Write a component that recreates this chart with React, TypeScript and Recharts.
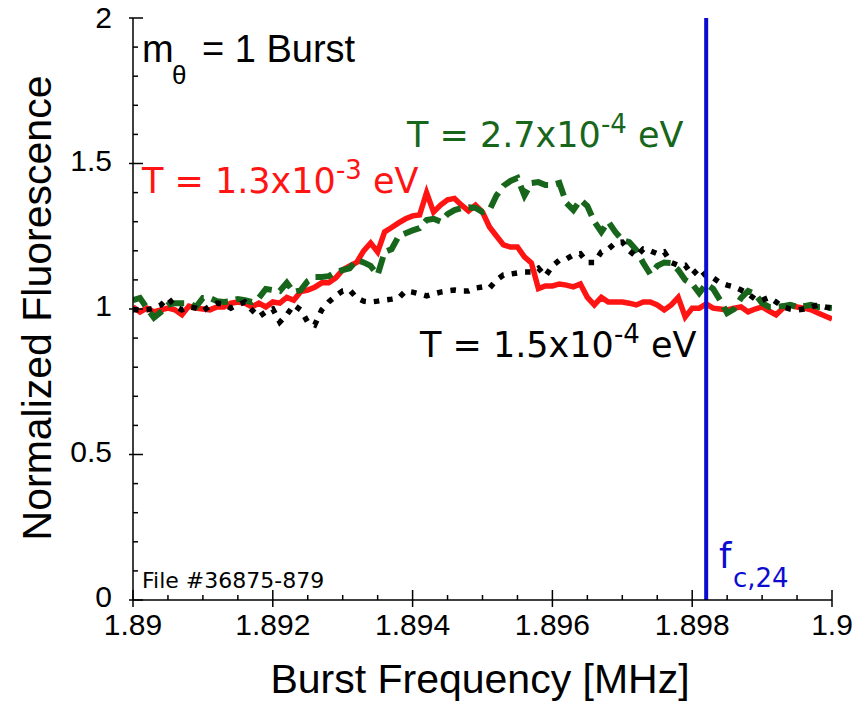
import { LineChart, Line, XAxis, YAxis, ReferenceLine } from 'recharts'

// normalized fluorescence vs burst frequency, one sample every 0.0001 MHz from 1.89
const freqStart = 1.89
const freqStep = 0.0001

const t13e3 = [
  1.007, 0.99, 1.003, 0.99, 0.997, 1.003, 0.997, 0.98, 1.01, 1.003,
  1.0, 0.997, 1.007, 1.007, 1.02, 1.024, 1.02, 1.007, 1.02, 1.007,
  1.024, 1.02, 1.04, 1.03, 1.06, 1.065, 1.075, 1.09, 1.09, 1.107,
  1.134, 1.148, 1.16, 1.2, 1.227, 1.196, 1.265, 1.28, 1.296, 1.31,
  1.32, 1.323, 1.4, 1.333, 1.357, 1.375, 1.38, 1.357, 1.337, 1.357,
  1.333, 1.282, 1.251, 1.22, 1.213, 1.213, 1.179, 1.158, 1.07, 1.079,
  1.079, 1.086, 1.082, 1.076, 1.086, 1.04, 1.014, 1.04, 1.024, 1.024,
  1.024, 1.02, 1.014, 1.024, 1.024, 1.014, 0.997, 1.014, 1.04, 0.973,
  1.003, 1.003, 1.017, 1.003, 1.0, 0.997, 1.003, 1.007, 0.99, 1.0,
  1.007, 0.993, 0.98, 1.003, 1.014, 1.007, 1.003, 0.997, 0.986, 0.976,
  0.966,
]

const t27e4 = [
  1.03, 1.038, 1.003, 0.97, 0.99, 1.014, 1.02, 1.02, 1.02, 1.007,
  1.038, 1.038, 1.027, 1.024, 1.027, 1.034, 1.03, 1.024, 1.038, 1.069,
  1.065, 1.062, 1.09, 1.058, 1.065, 1.096, 1.11, 1.11, 1.113, 1.127,
  1.134, 1.14, 1.168, 1.16, 1.148, 1.117, 1.196, 1.206, 1.25, 1.26,
  1.27, 1.278, 1.306, 1.31, 1.3, 1.326, 1.34, 1.347, 1.35, 1.347,
  1.333, 1.34, 1.39, 1.423, 1.44, 1.45, 1.39, 1.433, 1.436, 1.426,
  1.426, 1.433, 1.364, 1.34, 1.375, 1.354, 1.3, 1.265, 1.3, 1.265,
  1.237, 1.23, 1.203, 1.158, 1.12, 1.148, 1.16, 1.158, 1.134, 1.1,
  1.086, 1.055, 1.086, 1.069, 1.03, 0.986, 1.0, 1.038, 1.062, 1.052,
  1.02, 1.007, 1.007, 1.01, 1.014, 1.007, 1.01, 1.014, 1.007, 1.007,
  1.003,
]

const t15e4 = [
  0.997, 0.997, 0.997, 1.003, 1.014, 1.038, 1.01, 0.997, 1.007, 1.003,
  0.993, 1.01, 1.02, 1.017, 1.003, 1.014, 1.024, 0.997, 0.973, 0.99,
  1.0, 0.955, 0.98, 1.014, 0.997, 0.955, 0.945, 0.997, 1.024, 1.045,
  1.062, 1.065, 1.038, 1.027, 1.024, 1.027, 1.031, 1.034, 1.038, 1.062,
  1.058, 1.052, 1.045, 1.052, 1.058, 1.062, 1.065, 1.062, 1.062, 1.072,
  1.076, 1.072, 1.1, 1.117, 1.12, 1.124, 1.127, 1.127, 1.14, 1.113,
  1.148, 1.168, 1.172, 1.186, 1.19, 1.16, 1.16, 1.196, 1.206, 1.227,
  1.23, 1.2, 1.18, 1.206, 1.2, 1.19, 1.196, 1.16, 1.15, 1.15,
  1.117, 1.14, 1.113, 1.107, 1.09, 1.082, 1.076, 1.065, 1.052, 1.034,
  1.03, 1.04, 1.024, 1.007, 1.0, 0.997, 1.0, 1.007, 1.014, 1.007,
  1.003,
]

const xMajorTicks = [1.89, 1.892, 1.894, 1.896, 1.898, 1.9]
const yMajorTicks = [0, 0.5, 1, 1.5, 2]
const fc24 = 1.8982

const subdivide = (major: number[], n: number) => {
  const out: number[] = []
  for (let i = 0; i < major.length - 1; i++) {
    for (let k = 0; k < n; k++) out.push(major[i] + (k * (major[i + 1] - major[i])) / n)
  }
  out.push(major[major.length - 1])
  return out
}
const xTicks = subdivide(xMajorTicks, 4)
const yTicks = subdivide(yMajorTicks, 5)

const data = t13e3.map((v, i) => ({
  f: +(freqStart + i * freqStep).toFixed(4),
  red: v,
  green: t27e4[i],
  black: t15e4[i],
}))

const isMajor = (v: number, majors: number[]) => majors.some((m) => Math.abs(m - v) < 1e-7)
const fmt = (v: number) => String(+v.toFixed(4))

const SANS = '"Liberation Sans", Arial, sans-serif'
const DEJA = '"DejaVu Sans", sans-serif'

function BottomTick({ x, y, payload }: any) {
  const major = isMajor(payload.value, xMajorTicks)
  return (
    <g>
      <line x1={x} x2={x} y1={major ? y - 10 : y - 5} y2={major ? y + 7 : y} stroke="#000" strokeWidth={1.5} />
      {major && (
        <text x={x} y={y + 35} textAnchor="middle" fontSize={30} fontFamily={SANS} fill="#000">
          {fmt(payload.value)}
        </text>
      )}
    </g>
  )
}

function TopTick({ x, y, payload }: any) {
  const major = isMajor(payload.value, xMajorTicks)
  return <line x1={x} x2={x} y1={major ? y - 10 : y} y2={major ? y + 8 : y + 5} stroke="#000" strokeWidth={1.5} />
}

function LeftTick({ x, y, payload }: any) {
  const major = isMajor(payload.value, yMajorTicks)
  return (
    <g>
      <line x1={major ? x - 4 : x} x2={major ? x + 10 : x + 5} y1={y} y2={y} stroke="#000" strokeWidth={1.5} />
      {major && (
        <text x={x - 21} y={Math.max(y + 7, 28)} textAnchor="end" fontSize={30} fontFamily={SANS} fill="#000">
          {fmt(payload.value)}
        </text>
      )}
    </g>
  )
}

function RightTick({ x, y, payload }: any) {
  const major = isMajor(payload.value, yMajorTicks)
  return <line x1={major ? x - 10 : x - 5} x2={x} y1={y} y2={y} stroke="#000" strokeWidth={1.5} />
}

function TempLabel({ x, y, color, mant, exp }: { x: number; y: number; color: string; mant: string; exp: string }) {
  return (
    <text x={x} y={y} fill={color} fontFamily={DEJA} fontSize={35}>
      {`T = ${mant}x10`}
      <tspan dy={-14} fontSize={26}>{exp}</tspan>
      <tspan dy={14} fontSize={35}>{' eV'}</tspan>
    </text>
  )
}

export default function App() {
  return (
    <div style={{ position: 'absolute', left: 0, top: 0, background: '#fff' }}>
      <LineChart width={859} height={706} data={data} margin={{ top: 18, right: 27, bottom: 0, left: 0 }}>
        <XAxis
          dataKey="f"
          type="number"
          domain={[1.89, 1.9]}
          allowDataOverflow
          ticks={xTicks}
          interval={0}
          height={106}
          tickSize={0}
          tickMargin={0}
          tickLine={false}
          tick={<BottomTick />}
          axisLine={{ stroke: '#000', strokeWidth: 1.5 }}
        />
        <XAxis
          xAxisId="top"
          orientation="top"
          type="number"
          domain={[1.89, 1.9]}
          allowDataOverflow
          ticks={xTicks}
          interval={0}
          height={0}
          tickSize={0}
          tickMargin={0}
          tickLine={false}
          tick={<TopTick />}
          axisLine={{ stroke: '#000', strokeWidth: 1.5 }}
        />
        <YAxis
          type="number"
          domain={[0, 2]}
          allowDataOverflow
          ticks={yTicks}
          interval={0}
          width={133}
          tickSize={0}
          tickMargin={0}
          tickLine={false}
          tick={<LeftTick />}
          axisLine={{ stroke: '#000', strokeWidth: 1.5 }}
        />
        <YAxis
          yAxisId="right"
          orientation="right"
          type="number"
          domain={[0, 2]}
          allowDataOverflow
          ticks={yTicks}
          interval={0}
          width={0}
          tickSize={0}
          tickMargin={0}
          tickLine={false}
          tick={<RightTick />}
          axisLine={{ stroke: '#000', strokeWidth: 1.5 }}
        />
        <Line dataKey="red" type="linear" stroke="#ff1414" strokeWidth={5.5} dot={false} isAnimationActive={false} />
        <Line
          dataKey="green"
          type="linear"
          stroke="#17661b"
          strokeWidth={6}
          strokeDasharray="17 8"
          dot={false}
          isAnimationActive={false}
        />
        <Line
          dataKey="black"
          type="linear"
          stroke="#000"
          strokeWidth={5.5}
          strokeDasharray="5.5 8"
          dot={false}
          isAnimationActive={false}
        />
        <ReferenceLine x={fc24} stroke="#0c0cd0" strokeWidth={4} />

        <text x={142} y={62} fontFamily={SANS} fontSize={38} fill="#000">
          m
          <tspan x={172} y={84} fontSize={26}>θ</tspan>
          <tspan x={202} y={62} fontSize={38}>= 1 Burst</tspan>
        </text>
        <TempLabel x={142} y={193} color="#ff1414" mant="1.3" exp="-3" />
        <TempLabel x={407} y={147} color="#17661b" mant="2.7" exp="-4" />
        <TempLabel x={420} y={357} color="#000" mant="1.5" exp="-4" />
        <text x={719} y={568} fontFamily={DEJA} fontSize={35} fill="#0c0cd0">
          f
          <tspan x={733} y={587} fontSize={26}>c,24</tspan>
        </text>
        <text x={142} y={588} fontFamily={DEJA} fontSize={22} fill="#000">
          File #36875-879
        </text>
        <text x={480} y={693} textAnchor="middle" fontFamily={SANS} fontSize={41} fill="#000">
          Burst Frequency [MHz]
        </text>
        <text
          x={51}
          y={308}
          transform="rotate(-90 51 308)"
          textAnchor="middle"
          fontFamily={SANS}
          fontSize={41}
          fill="#000"
        >
          Normalized Fluorescence
        </text>
      </LineChart>
    </div>
  )
}
